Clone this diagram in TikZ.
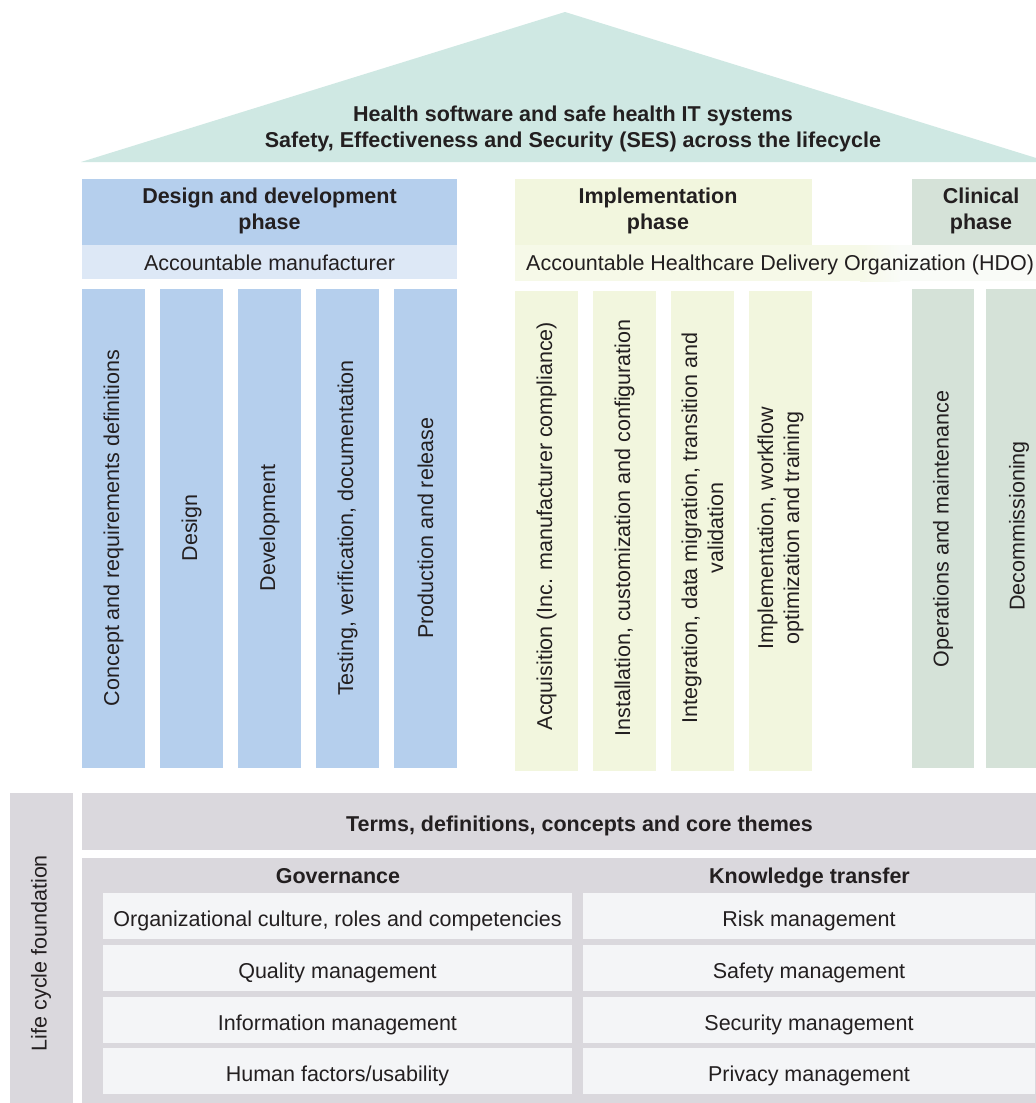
\documentclass[tikz,border=0pt]{standalone}
\usepackage{fontspec}
\setmainfont{Liberation Sans}
\definecolor{roofc}{RGB}{207,232,227}
\definecolor{desc}{RGB}{181,207,237}
\definecolor{accm}{RGB}{221,232,246}
\definecolor{impc}{RGB}{242,246,222}
\definecolor{hdoc}{RGB}{246,249,232}
\definecolor{hdoc2}{RGB}{249,251,247}
\definecolor{clinc}{RGB}{213,226,216}
\definecolor{greyc}{RGB}{218,216,221}
\definecolor{cellc}{RGB}{244,245,247}
\definecolor{textc}{RGB}{35,31,32}
\begin{document}
\begin{tikzpicture}[x=1pt,y=-1pt,
  txt/.style={font=\fontsize{21.5}{26}\selectfont, text=textc, align=center, inner sep=0pt},
  btxt/.style={font=\fontsize{21.5}{26}\selectfont\bfseries, text=textc, align=center, inner sep=0pt},
  line/.style={text height=15.5pt, text depth=4.5pt},
  vtxt/.style={txt, rotate=90}]
\useasboundingbox (0,0) rectangle (1036,1103);
\clip (0,0) rectangle (1036,1103);
\fill[white] (0,0) rectangle (1036,1103);
% roof
\fill[roofc] (81,162) -- (565,12) -- (1049,162) -- cycle;
\node[btxt] (roof) at (573,129) {Health software and safe health IT systems\\Safety, Effectiveness and Security (SES) across the lifecycle};
% design phase
\fill[desc] (82,179) rectangle (457,245);
\node[btxt] (dh) at (269.5,211) {Design and development\\phase};
\fill[accm] (82,245) rectangle (457,279);
\node[txt, line] (am) at (269.5,265) {Accountable manufacturer};
\foreach \i/\t [count=\k] in {0/{Concept and requirements definitions},1/Design,2/Development,3/{Testing, verification, documentation},4/{Production and release}}{
  \fill[desc] (82+78*\i,289) rectangle (145+78*\i,768);
  \node[vtxt] (d\k) at (113.5+78*\i,528) {\t};
}
% implementation phase
\fill[impc] (515,179) rectangle (812,245);
\node[btxt] (ih) at (658,211) {Implementation\\phase};
\fill[hdoc] (515,245) rectangle (860,281);
\shade[left color=hdoc, right color=hdoc2] (860,245) rectangle (900,281);
\fill[hdoc2] (900,245) rectangle (1036,281);
\node[txt, line, anchor=west] (hdo) at (526,264.5) {Accountable Healthcare Delivery Organization (HDO)};
\fill[impc] (515,291) rectangle (578,771);
\fill[impc] (593,291) rectangle (656,771);
\fill[impc] (671,291) rectangle (734,771);
\fill[impc] (749,291) rectangle (812,771);
\node[vtxt] (i1) at (546.5,526) {Acquisition (Inc. manufacturer compliance)};
\node[vtxt] (i2) at (624.5,528) {Installation, customization and configuration};
\node[vtxt] (i3) at (702.5,528) {Integration, data migration, transition and\\validation};
\node[vtxt] (i4) at (780.5,528) {Implementation, workflow\\optimization and training};
% clinical phase
\fill[clinc] (912,179) rectangle (1049,245);
\node[btxt] (ch) at (981,211) {Clinical\\phase};
\fill[clinc] (912,289) rectangle (974,768);
\fill[clinc] (986,289) rectangle (1049,768);
\node[vtxt] (c1) at (943,529) {Operations and maintenance};
\node[vtxt] (c2) at (1019,526) {Decommissioning};
% foundation
\fill[greyc] (10,793) rectangle (73,1103);
\node[vtxt] (lcf) at (41,953) {Life cycle foundation};
\fill[greyc] (82,793) rectangle (1036,850);
\node[btxt, line] (terms) at (579.5,825.5) {Terms, definitions, concepts and core themes};
\fill[greyc] (82,858) rectangle (1036,1103);
\node[btxt, line] (gov) at (338,877.5) {Governance};
\node[btxt, line] (kt) at (809.5,877.5) {Knowledge transfer};
\foreach \y/\a/\b [count=\k] in {893/{Organizational culture, roles and competencies}/{Risk management},945/{Quality management}/{Safety management},997/{Information management}/{Security management},1048/{Human factors/usability}/{Privacy management}}{
  \fill[cellc] (103,\y) rectangle (572,\y+46);
  \fill[cellc] (583,\y) rectangle (1035,\y+46);
  \node[txt, line] (g\k) at (337.5,\y+28) {\a};
  \node[txt, line] (k\k) at (809,\y+28) {\b};
}
\end{tikzpicture}
\end{document}
